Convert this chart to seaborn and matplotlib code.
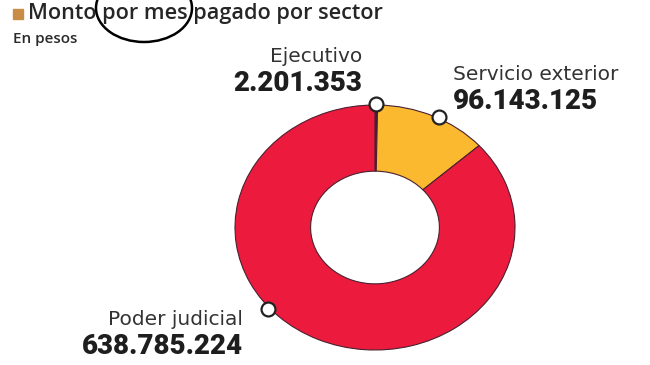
import numpy as np
import seaborn as sns
import matplotlib.pyplot as plt
from matplotlib.patches import Ellipse, Rectangle

sectores = ["Ejecutivo", "Servicio exterior", "Poder judicial"]
montos = [2201353, 96143125, 638785224]
colores = ["#3b1d4a", "#fbb92f", "#ec1b3d"]

W, H = 650, 365


def px(x, y):
    # pixel (from top-left) -> figure fraction
    return x / W, 1 - y / H


if __name__ == "__main__":
    sns.set_theme(style="white")
    plt.rcParams["font.family"] = ["DejaVu Sans"]

    fig = plt.figure(figsize=(W / 100, H / 100), dpi=100)
    fig.patch.set_facecolor("white")
    ax = fig.add_axes([0, 0, 1, 1])

    pal = sns.color_palette(colores)
    wedges, _ = ax.pie(
        montos,
        colors=pal,
        startangle=90,
        counterclock=False,
        radius=1.0,
        wedgeprops=dict(width=0.54, edgecolor="#4a2030", linewidth=0.8),
    )

    # donut is slightly stretched in the original
    cx, cy, rx, ry = 375, 227.5, 140, 122.5
    ax.set_aspect("auto")
    ax.set_xlim(-cx / rx, (W - cx) / rx)
    ax.set_ylim(-(H - cy) / ry, cy / ry)
    ax.axis("off")

    # white marker dots on the outer edge of each slice
    frac = np.array(montos) / np.sum(montos)
    start = np.concatenate([[0], np.cumsum(frac)[:-1]])
    marker_pos = [0.5, 0.55, 0.58]
    ang = np.deg2rad(90 - 360 * (start + frac * np.array(marker_pos)))
    ax.plot(np.cos(ang) * 1.01, np.sin(ang) * 1.01, "o", ms=10,
            mfc="white", mec="#222222", mew=1.6, zorder=5, clip_on=False)

    # title block
    fig.patches.append(Rectangle(px(13, 18.5), 10 / W, 9 / H,
                                 transform=fig.transFigure,
                                 color="#c98b48", zorder=3))
    fig.text(*px(28, 19), "Monto por mes pagado por sector", fontsize=15.6,
             family=["Open Sans", "DejaVu Sans"], fontweight="semibold",
             color="#262626", va="baseline", ha="left")
    fig.text(*px(13, 43), "En pesos", fontsize=11,
             family=["Open Sans", "DejaVu Sans"], fontweight="semibold",
             color="#2a2a2a", va="baseline", ha="left")

    # hand-drawn circle around "por mes"
    fig.patches.append(Ellipse(px(144, 8), 96 / W, 68 / H,
                               transform=fig.transFigure, fill=False,
                               edgecolor="black", linewidth=1.8, zorder=4))

    # slice labels
    valores = [f"{v:,}".replace(",", ".") for v in montos]
    label_xy = [(362, 61.5, "right"), (453, 79.5, "left"), (243, 325, "right")]
    for nombre, valor, (lx, ly, ha) in zip(sectores, valores, label_xy):
        fig.text(*px(lx, ly), nombre, fontsize=14.5, color="#333333",
                 va="baseline", ha=ha)
        fig.text(*px(lx, ly + 29.5), valor, fontsize=20, fontweight="heavy",
                 family=["Roboto", "DejaVu Sans"], color="#1e1e1e",
                 va="baseline", ha=ha)

    plt.savefig("out.png", dpi=100, facecolor="white")
